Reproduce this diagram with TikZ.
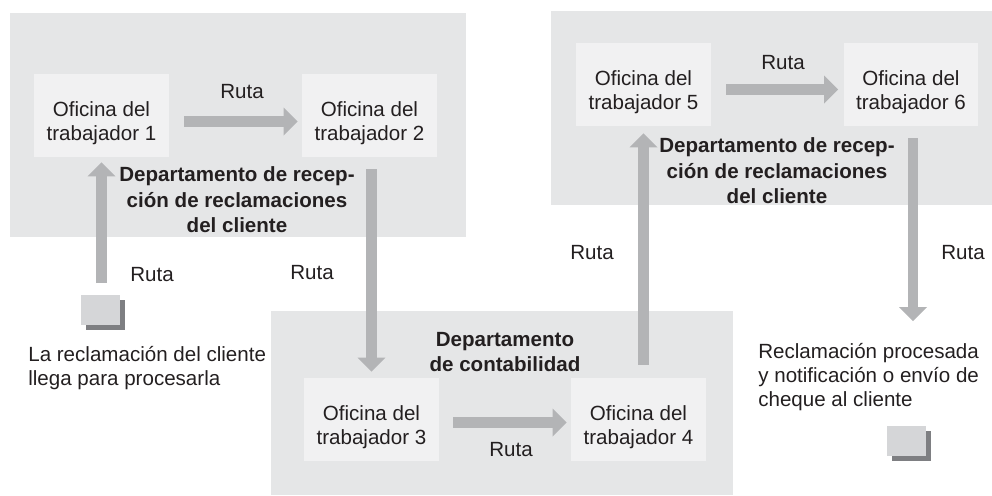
\documentclass[tikz,border=0pt]{standalone}
\usepackage{fontspec}
\setmainfont{Liberation Sans}
\usetikzlibrary{positioning, calc, arrows.meta, shadows}
\definecolor{panelgray}{HTML}{E5E6E7}
\definecolor{officegray}{HTML}{F1F1F2}
\definecolor{routegray}{HTML}{B3B4B6}
\definecolor{papergray}{HTML}{D5D6D8}
\definecolor{shadowgray}{HTML}{7E7F82}
\definecolor{inkgray}{HTML}{231F20}
% office text, pushed a little below the middle of its box
\newcommand{\officetext}[1]{\rule{0pt}{0.62cm}Oficina del\\trabajador #1}

\begin{document}
\begin{tikzpicture}[x=0.02cm, y=-0.02cm,
    font=\fontsize{11.7}{13.6}\selectfont, text=inkgray,
    office/.style={fill=officegray, minimum width=2.7cm, minimum height=1.66cm,
        inner sep=0pt, align=center},
    dept/.style={font=\bfseries\fontsize{11.7}{14.5}\selectfont, align=center},
    note/.style={anchor=west, align=left, inner sep=0pt},
    paper/.style={fill=papergray, minimum width=0.78cm, minimum height=0.6cm,
        inner sep=0pt, drop shadow={shadow xshift=0.1cm, shadow yshift=-0.1cm,
        fill=shadowgray, opacity=1}},
    route/.style={draw=routegray, line width=0.21cm,
        -{Triangle[length=0.28cm, width=0.56cm, line width=0pt]}}]
    \useasboundingbox (0,0) rectangle (992,495);

    % Department panels
    \fill[panelgray] (10,13) rectangle (466,237);
    \fill[panelgray] (271,311) rectangle (733,495);
    \fill[panelgray] (551,11) rectangle (992,205);

    % Department names
    \node[dept] (dept1) at (237,200) {Departamento de recep-\\ción de reclamaciones\\del cliente};
    \node[dept] (dept2) at (505,352) {Departamento\\de contabilidad};
    \node[dept] (dept3) at (777,171) {Departamento de recep-\\ción de reclamaciones\\del cliente};

    % Worker offices
    \node[office] (o1) at (101.5,115.5) {\officetext{1}};
    \node[office] (o2) at (369.5,115.5) {\officetext{2}};
    \node[office] (o3) at (371.5,419.5) {\officetext{3}};
    \node[office] (o4) at (638.5,419.5) {\officetext{4}};
    \node[office] (o5) at (643.5,84.5) {\officetext{5}};
    \node[office] (o6) at (911,84.5) {\officetext{6}};

    % Claim in and claim out
    \node[paper] (claim) at (100.5,309.5) {};
    \node[paper] (cheque) at (906.5,441) {};
    \node[note] (intext) at (28,368) {La reclamación del cliente\\llega para procesarla};
    \node[note] (outtext) at (758,377) {Reclamación procesada\\y notificación o envío de\\cheque al cliente};
    \coordinate (done) at (913,321);

    % Routes
    \draw[route] ($(claim.north -| o1.south)+(0,-11)$) -- ($(o1.south)+(0,5)$);
    \draw[route] ($(o1.east)+(15,6)$) -- ($(o2.west)+(-4,6)$);
    \draw[route] ($(o2.south -| o3.north)+(0,12)$) -- ($(o3.north)+(0,-6)$);
    \draw[route] ($(o3.east)+(14,3)$) -- ($(o4.west)+(-4,3)$);
    \draw[route] ($(o4.north -| o5.south)+(0,-13)$) -- ($(o5.south)+(0,7)$);
    \draw[route] ($(o5.east)+(15,5)$) -- ($(o6.west)+(-5,5)$);
    \draw[route] ($(o6.south -| done)+(0,12)$) -- (done);

    % Route labels
    \node (rin) at (152,275) {Ruta};
    \node (r12) at (242,92) {Ruta};
    \node (r23) at (312,273) {Ruta};
    \node (r34) at (511,450) {Ruta};
    \node (r45) at (592,253) {Ruta};
    \node (r56) at (783,63) {Ruta};
    \node (rout) at (963,253) {Ruta};
\end{tikzpicture}
\end{document}
